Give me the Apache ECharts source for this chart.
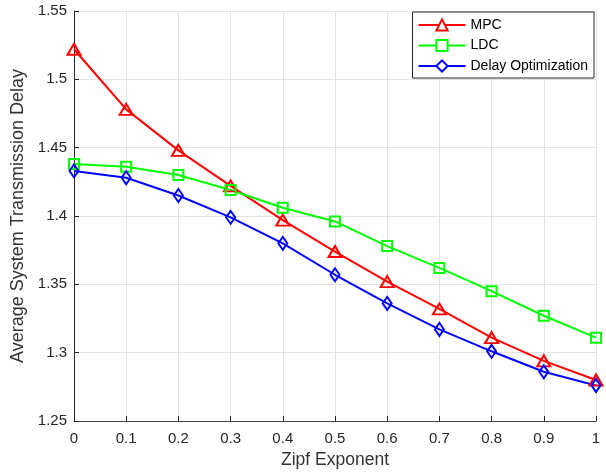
<!DOCTYPE html>
<html><head><meta charset="utf-8">
<script src="https://cdn.jsdelivr.net/npm/echarts@6/dist/echarts.min.js"></script>
<style>html,body{margin:0;padding:0;background:#fff}#c{width:606px;height:474px}</style>
</head><body><div id="c"></div>
<script>
const categories = ['0','0.1','0.2','0.3','0.4','0.5','0.6','0.7','0.8','0.9','1'];
const xValues = [0,0.1,0.2,0.3,0.4,0.5,0.6,0.7,0.8,0.9,1];
const mpc = [1.522,1.478,1.448,1.422,1.397,1.374,1.352,1.332,1.311,1.294,1.280];
const ldc = [1.438,1.436,1.430,1.419,1.406,1.396,1.378,1.362,1.345,1.327,1.311];
const delayOpt = [1.433,1.428,1.415,1.399,1.380,1.357,1.336,1.317,1.301,1.286,1.276];
const yTicks = [1.25,1.3,1.35,1.4,1.45,1.5,1.55];

const font = 'Liberation Sans, Arial, Helvetica, sans-serif';
const chart = echarts.init(document.getElementById('c'), null, {renderer:'canvas'});
function mk(name, data, color, symbol, size){
  return {
    name, type:'line', data: xValues.map((x,i)=>[x,data[i]]),
    symbol, symbolSize:size, showAllSymbol:true,
    lineStyle:{color, width:2},
    itemStyle:{color:'rgba(255,255,255,0)', borderColor:color, borderWidth:2},
    emphasis:{disabled:true}, animation:false
  };
}
chart.setOption({
  animation:false,
  backgroundColor:'#fff',
  grid:{left:74, right:10, top:11, bottom:53, containLabel:false},
  legend:{
    right:12, top:12, orient:'vertical', itemGap:6.5,
    itemWidth:47, itemHeight:14,
    padding:[6,6,5,5],
    borderColor:'#262626', borderWidth:1, backgroundColor:'#fff',
    textStyle:{fontFamily:font, fontSize:14, color:'#000'},
    data:[
      {name:'MPC', itemStyle:{color:'#fff', borderColor:'#ff0000', borderWidth:2}},
      {name:'LDC', itemStyle:{color:'#fff', borderColor:'#00ff00', borderWidth:2}},
      {name:'Delay Optimization', itemStyle:{color:'#fff', borderColor:'#0000ff', borderWidth:2}}
    ]
  },
  xAxis:{
    type:'value', min:0, max:1, interval:0.1,
    name:'Zipf Exponent', nameLocation:'middle', nameGap:27,
    nameTextStyle:{fontFamily:font, fontSize:17.5, color:'#333'},
    axisLine:{show:true, onZero:false, lineStyle:{color:'#404040', width:1}},
    axisTick:{show:true, inside:true, length:5, lineStyle:{color:'#262626'}},
    axisLabel:{fontFamily:font, fontSize:15, color:'#262626', margin:10,
      formatter:v=>categories[Math.round(v*10)]},
    splitLine:{show:true, lineStyle:{color:'#e3e3e3', width:1}}
  },
  yAxis:{
    type:'value', min:1.25, max:1.55, interval:0.05,
    name:'Average System Transmission Delay', nameLocation:'middle', nameGap:41,
    nameTextStyle:{fontFamily:font, fontSize:18, color:'#333'},
    axisLine:{show:true, lineStyle:{color:'#262626', width:1}},
    axisTick:{show:true, inside:true, length:5, lineStyle:{color:'#262626'}},
    axisLabel:{fontFamily:font, fontSize:15, color:'#262626', margin:7,
      formatter:v=>{const t=yTicks.find(k=>Math.abs(k-v)<1e-6); return t===undefined?'':String(t);}},
    splitLine:{show:true, lineStyle:{color:'#e3e3e3', width:1}}
  },
  series:[
    mk('MPC', mpc, '#ff0000', 'triangle', [13,11]),
    mk('LDC', ldc, '#00ff00', 'rect', 10),
    mk('Delay Optimization', delayOpt, '#0000ff', 'diamond', [9,13])
  ]
});
</script></body></html>
